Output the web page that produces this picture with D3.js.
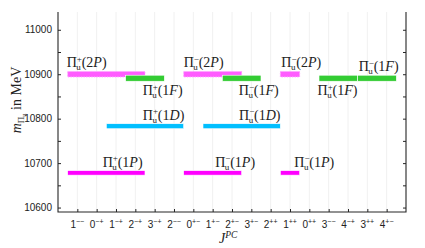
<!DOCTYPE html>
<html>
<head>
<meta charset="utf-8">
<script src="https://cdn.jsdelivr.net/npm/d3@7"></script>
<style>
body{margin:0;background:#fff}
text{font-family:"Liberation Sans",Arial,sans-serif}
.tex{font-family:"Liberation Serif","DejaVu Serif",serif}
</style>
</head>
<body>
<svg id="chart" width="425" height="248"></svg>
<script>
// J^PC categories along the x axis (J, then P and C)
const categories = ["1--","0-+","1-+","2-+","3-+","2--","0+-","1+-","2+-","3+-","2++","1++","0++","3--","4-+","3++","4+-"];

// hybrid states, one bar each
const stateParity = ["+","-","-","+","-","+","-","-","+","-","+","-"];
const stateWave   = ["1P","1P","1P","1D","1D","2P","2P","2P","1F","1F","1F","1F"];
const stateMass   = [10678,10678,10678,10783,10783,10900,10900,10900,10891,10891,10891,10891];
const stateJPC = [
  ["1--","0-+","1-+","2-+"],
  ["0+-","1+-","2+-"],
  ["1++"],
  ["1-+","2-+","3-+","2--"],
  ["1+-","2+-","3+-","2++"],
  ["1--","0-+","1-+","2-+"],
  ["0+-","1+-","2+-"],
  ["1++"],
  ["2-+","3-+"],
  ["2+-","3+-"],
  ["3--","4-+"],
  ["3++","4+-"]
];

const yMajor = [10600,10700,10800,10900,11000];
const yMinor = [10650,10750,10850,10950];

// label placement (px from bar start, above/below bar)
const labelDx   = [35, 31.5, 14, 36.5, 36, -1, 0, 1, 17, 16.5, -1.5, 1];
const labelSide = ["up","up","up","up","up","up","up","up","down","down","down","up"];

const waveStyle = {
  "1P": {fill:"#ff00ff", h:4.5},
  "1D": {fill:"#00bfff", h:5},
  "1F": {fill:"#33cc33", h:6},
  "2P": {fill:"#ff5cff", h:5.5, stroke:"#ffa8ff", dash:"1.3,1.3"}
};

const margin = {left:58, right:19, top:12, bottom:36};
const W = 425, H = 248;
const svg = d3.select("#chart");

const x = d3.scalePoint().domain(categories).range([margin.left, W - margin.right]).padding(1);
const y = d3.scaleLinear().domain([10590, 11040]).range([H - margin.bottom, margin.top]);
const step = x.step();

// vertical grid
svg.append("g").selectAll("line").data(categories).join("line")
  .attr("x1", d => x(d)).attr("x2", d => x(d))
  .attr("y1", margin.top).attr("y2", H - margin.bottom)
  .attr("stroke", "#ececec").attr("stroke-width", 0.8);

// bars
const bars = stateMass.map((m, i) => ({
  mass: m, wave: stateWave[i], parity: stateParity[i], jpc: stateJPC[i], i: i
}));

svg.append("g").selectAll("rect").data(bars).join("rect")
  .attr("x", d => x(d.jpc[0]) - step / 2)
  .attr("width", d => x(d.jpc[d.jpc.length - 1]) - x(d.jpc[0]) + step)
  .attr("y", d => y(d.mass) - waveStyle[d.wave].h / 2)
  .attr("height", d => waveStyle[d.wave].h)
  .attr("fill", d => waveStyle[d.wave].fill)
  .attr("stroke", d => waveStyle[d.wave].stroke || "#fff")
  .attr("stroke-width", d => waveStyle[d.wave].stroke ? 1 : 0.6)
  .attr("stroke-dasharray", d => waveStyle[d.wave].dash || null);

// state labels  Π_u^{±}(nL)
function stateLabel(g, d) {
  const x0 = x(d.jpc[0]) - step / 2 + labelDx[d.i];
  const h = waveStyle[d.wave].h;
  const by = labelSide[d.i] == "up" ? y(d.mass) - h / 2 - 4 : y(d.mass) + h / 2 + 14;
  const t = g.append("text").attr("class", "tex").attr("x", x0).attr("y", by)
    .attr("font-size", 14).attr("fill", "#222");
  t.append("tspan").text("Π");
  t.append("tspan").attr("font-size", 9).attr("dy", -5.5).text(d.parity == "+" ? "+" : "−");
  t.append("tspan").attr("font-size", 9).attr("dx", -5.5).attr("dy", 8.5).text("u");
  t.append("tspan").attr("dy", -3).attr("dx", 0.8).text("(" + d.wave[0]);
  t.append("tspan").attr("font-style", "italic").text(d.wave[1]);
  t.append("tspan").text(")");
}
const lg = svg.append("g");
bars.forEach(d => stateLabel(lg, d));

// axes
const axisColor = "#262626";
const yAxisL = svg.append("g").attr("transform", `translate(${margin.left},0)`)
  .call(d3.axisLeft(y).tickValues(yMajor).tickSize(-3).tickPadding(6).tickFormat(d3.format("d")));
yAxisL.append("g").call(d3.axisLeft(y).tickValues(yMinor).tickSize(-3).tickFormat(""));
const yAxisR = svg.append("g").attr("transform", `translate(${W - margin.right},0)`)
  .call(d3.axisRight(y).tickValues(yMajor.concat(yMinor)).tickSize(-3).tickFormat(""));
const xAxis = svg.append("g").attr("transform", `translate(0,${H - margin.bottom})`)
  .call(d3.axisBottom(x).tickSize(-3).tickFormat(""));

svg.selectAll(".domain").remove();
svg.selectAll(".tick line").attr("stroke", axisColor);
yAxisL.selectAll("text").attr("font-size", 10).attr("fill", "#222")
  .attr("font-family", "'Liberation Sans',Arial,sans-serif");

// frame (no top)
svg.append("path")
  .attr("d", `M${margin.left},${margin.top}V${H - margin.bottom}H${W - margin.right}V${margin.top}`)
  .attr("fill", "none").attr("stroke", axisColor).attr("stroke-width", 1.1);

// x tick labels J^{PC}
const sup = s => s.replace(/-/g, "−");
svg.append("g").selectAll("text").data(categories).join("text")
  .attr("x", d => x(d)).attr("y", 227.5).attr("text-anchor", "middle")
  .attr("font-size", 10).attr("fill", "#222")
  .each(function (d) {
    const t = d3.select(this);
    t.append("tspan").text(d[0]);
    t.append("tspan").attr("font-size", 7).attr("dy", -4).text(sup(d.slice(1)));
  });

// axis titles
const xt = svg.append("text").attr("class", "tex").attr("x", 219).attr("y", 243)
  .attr("font-size", 14).attr("fill", "#222");
xt.append("tspan").attr("font-style", "italic").text("J");
xt.append("tspan").attr("font-style", "italic").attr("font-size", 9.5).attr("dy", -5.5).text("PC");

const yt = svg.append("text").attr("class", "tex")
  .attr("transform", "translate(21,100) rotate(-90)").attr("text-anchor", "middle")
  .attr("font-size", 14).attr("fill", "#222");
yt.append("tspan").attr("font-style", "italic").text("m");
yt.append("tspan").attr("font-size", 9).attr("dy", 3).text("Π");
yt.append("tspan").attr("font-size", 6.5).attr("dy", 2).text("u");
yt.append("tspan").attr("dy", -5).text(" in MeV");
</script>
</body>
</html>
